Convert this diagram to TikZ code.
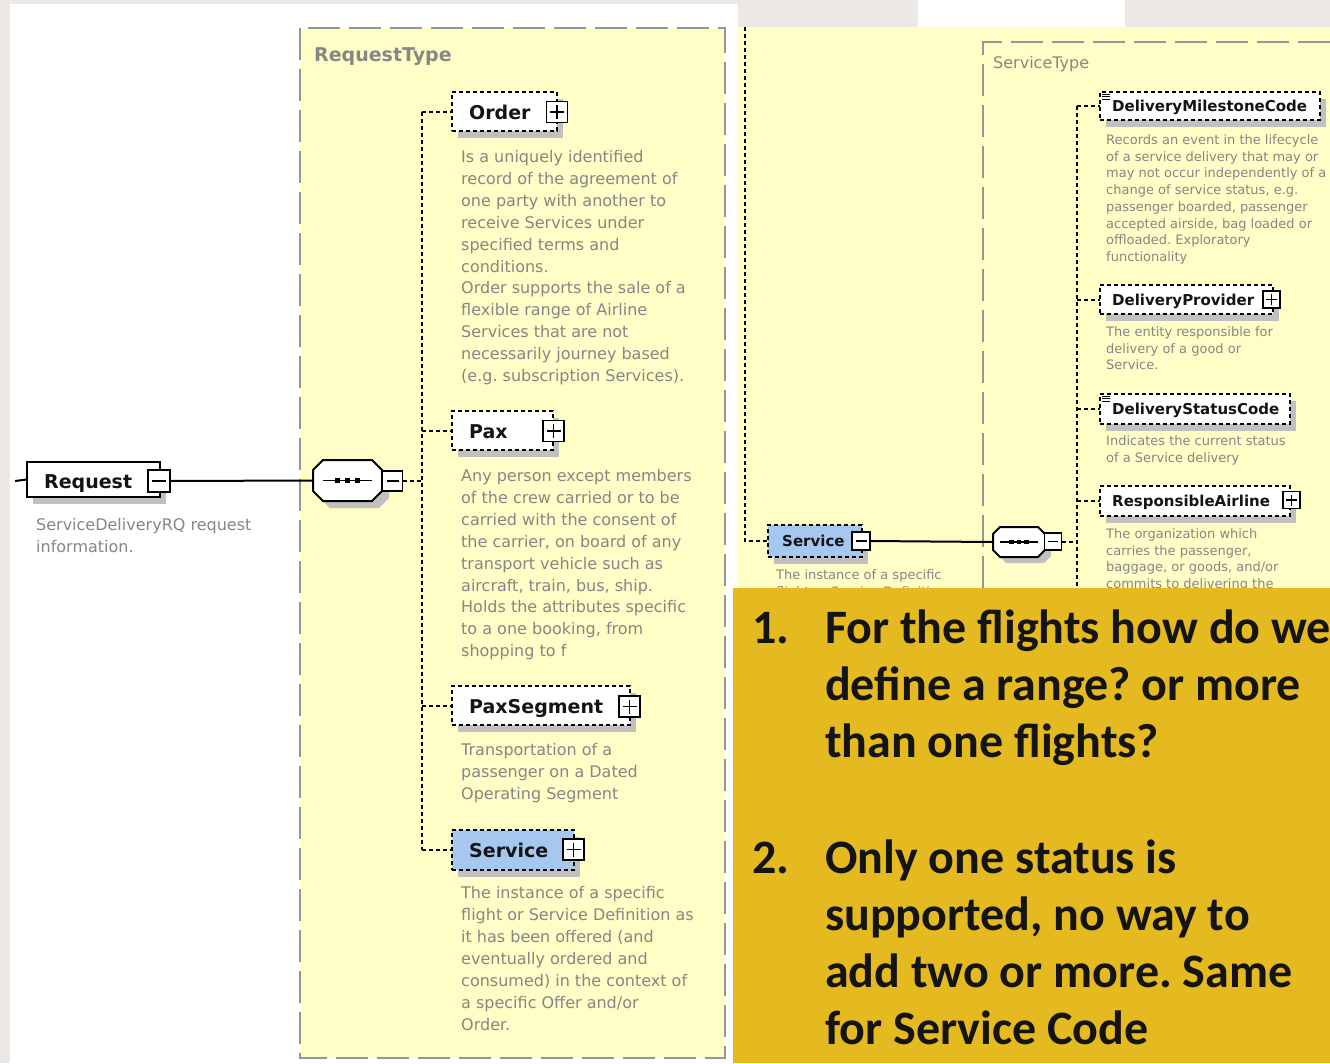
\documentclass[tikz,border=0pt]{standalone}
\usepackage{fontspec}
\setmainfont{DejaVu Sans}
\newfontfamily\callf{Carlito}
\usetikzlibrary{shadows}
\frenchspacing
\definecolor{bggray}{RGB}{236,232,229}
\definecolor{xsyellow}{RGB}{255,254,198}
\definecolor{calloutc}{RGB}{229,185,32}
\definecolor{descgray}{RGB}{134,134,134}
\definecolor{typegray}{RGB}{135,135,135}
\definecolor{shadowc}{RGB}{192,192,192}
\definecolor{selblue}{RGB}{166,200,240}
\definecolor{bordergray}{RGB}{150,150,150}

\tikzset{
  conn/.style={line width=2pt, dash pattern=on 4pt off 3pt},
  solidconn/.style={line width=2pt},
  elbox/.style={draw, fill=white, line width=2pt, dash pattern=on 4pt off 3pt,
     inner sep=0, outer sep=0, anchor=north west,
     drop shadow={shadow xshift=6pt, shadow yshift=-7pt, fill=shadowc, draw=none, opacity=1}},
  pmbox/.style={draw, fill=white, line width=1.8pt, solid, minimum size=#1, inner sep=0, outer sep=0},
  plusm/.style={path picture={\draw[line width=1.6pt]
     ([xshift=-#1]path picture bounding box.center) -- ([xshift=#1]path picture bounding box.center)
     ([yshift=-#1]path picture bounding box.center) -- ([yshift=#1]path picture bounding box.center);}},
  minusm/.style={path picture={\draw[line width=1.6pt]
     ([xshift=-#1]path picture bounding box.center) -- ([xshift=#1]path picture bounding box.center);}},
  elname/.style={font=\bfseries\fontsize{#1}{#1}\selectfont, anchor=base west, inner sep=0, text=black!92},
  desc/.style={anchor=base west, inner sep=0, text=descgray},
  typebox/.style={draw=bordergray, line width=2pt, dash pattern=on 32pt off 9pt},
  callt/.style={font=\callf\bfseries\fontsize{48}{48}\selectfont, anchor=base west, inner sep=0, text=black!92},
  seqbox/.style={minimum width=#1, inner sep=0, outer sep=0},
}

\newcommand\desclines[6]{%
  \foreach \ln [count=\k from 0] in {#6}{%
    \node[desc, font=\fontsize{#5}{#5}\selectfont] (#1\k) at (#2, {#3+\k*#4}) {\ln};
  }}

\newcommand\octpath[2]{([xshift=#2]#1.north west) -- ([xshift=-#2]#1.north east) -- ([yshift=-#2]#1.north east) -- ([yshift=#2]#1.south east) -- ([xshift=-#2]#1.south east) -- ([xshift=#2]#1.south west) -- ([yshift=#2]#1.south west) -- ([yshift=-#2]#1.north west) -- cycle}

\newcommand\seqdraw[5]{% name, chamfer, shadow, dot spacing, dot half size
  \begin{scope}[transform canvas={shift={(#3,-#3)}}]
    \fill[shadowc] \octpath{#1}{#2};
  \end{scope}
  \draw[line width=2pt, fill=white] \octpath{#1}{#2};
  \draw[line width=1.8pt] ([xshift=#2]#1.west) -- ([xshift=-#2]#1.east);
  \foreach \dx in {-#4,0,#4} {\fill ([xshift=\dx pt]#1.center) +(-#5,-#5) rectangle +(#5,#5);}
}

\newcommand\listicon[1]{%
  \foreach \dy in {0,2.5,5} {\draw[line width=1pt] ([xshift=2pt,yshift=-2pt-\dy pt]#1.north west) -- ++(8,0);}
}

\begin{document}
\begin{tikzpicture}[x=1pt,y=-1pt]
\useasboundingbox (0,0) rectangle (1330,1063);
% backgrounds
\fill[bggray] (0,0) rectangle (1330,1063);
\fill[white] (10,4) rectangle (738,1063);
\fill[white] (918,0) rectangle (1125,27);
\fill[xsyellow] (738,27) rectangle (1330,1063);
% RequestType panel
\draw[typebox, fill=xsyellow] (300,28) rectangle (725,1058);
\node[font=\bfseries\fontsize{19}{19}\selectfont, text=typegray, anchor=base west, inner sep=0] (rtlabel) at (314,61) {RequestType};
% ServiceType panel
\draw[typebox] (1330,42) -- (983,42) -- (983,620);
\node[font=\fontsize{16}{16}\selectfont, text=typegray, anchor=base west, inner sep=0] (stlabel) at (993,68) {ServiceType};

% ---------- left part ----------
\node[elbox, solid, minimum width=133pt, minimum height=35pt] (req) at (27,462) {};
\node[elname=19] (reqt) at (44,488) {Request};
\node[pmbox=22pt, minusm=7pt] (reqm) at (159,481) {};
\desclines{reqd}{36}{530.5}{22}{16}{ServiceDeliveryRQ request,information.}

\node[seqbox=69pt, minimum height=41pt] (seq1) at (347.5,480.5) {};
\seqdraw{seq1}{10pt}{7pt}{10}{2.7}
\node[pmbox=20pt, minusm=6pt] (seq1m) at (392.5,481) {};

\node[elbox, minimum width=105pt, minimum height=39pt] (order) at (452,92) {};
\node[elname=19] (ordert) at (469,119) {Order};
\node[pmbox=21pt, plusm=7pt] (orderp) at (557,112) {};
\desclines{orderd}{461}{162.5}{21.9}{16}{Is a uniquely identified,record of the agreement of,one party with another to,receive Services under,specified terms and,conditions.,Order supports the sale of a,flexible range of Airline,Services that are not,necessarily journey based,(e.g. subscription Services).}

\node[elbox, minimum width=101pt, minimum height=39pt] (pax) at (452,411) {};
\node[elname=19] (paxt) at (469,438) {Pax};
\node[pmbox=21pt, plusm=7pt] (paxp) at (553.5,431) {};
\desclines{paxd}{461}{481.5}{21.9}{16}{Any person except members,of the crew carried or to be,carried with the consent of,{the carrier, on board of any},transport vehicle such as,{aircraft, train, bus, ship.},Holds the attributes specific,{to a one booking, from},shopping to f}

\node[elbox, minimum width=178pt, minimum height=39pt] (pseg) at (452,686) {};
\node[elname=19] (psegt) at (469,713) {PaxSegment};
\node[pmbox=21pt, plusm=7pt] (psegp) at (629.5,706.5) {};
\desclines{psegd}{461}{755.5}{22}{16}{Transportation of a,passenger on a Dated,Operating Segment}

\node[elbox, fill=selblue, minimum width=122pt, minimum height=40pt] (svc) at (452,830) {};
\node[elname=19] (svct) at (469,857) {Service};
\node[pmbox=21pt, plusm=7pt] (svcp) at (573.5,849.5) {};
\desclines{svcd}{461}{898.5}{22}{16}{The instance of a specific,flight or Service Definition as,it has been offered (and,eventually ordered and,consumed) in the context of,a specific Offer and/or,Order.}

% left connectors
\coordinate (reqin) at (15,481);
\coordinate (spine1) at (422,481);
\draw[solidconn] (reqin) -- (req.west);
\draw[solidconn] (reqm.east) -- (seq1.west);
\draw[conn] (seq1m.east) -- (spine1);
\draw[conn] (order.west -| spine1) -- (svc.west -| spine1);
\foreach \c in {order,pax,pseg,svc} {\draw[conn] (\c.west -| spine1) -- (\c.west);}

% ---------- right part ----------
\node[elbox, fill=selblue, minimum width=94pt, minimum height=32pt] (svc2) at (768,525) {};
\node[elname=15] (svc2t) at (782,546.5) {Service};
\node[pmbox=18pt, minusm=5.5pt] (svc2m) at (861,541) {};
\desclines{svc2d}{776}{579.5}{16.7}{13}{The instance of a specific,flight or Service Definition as}

\node[seqbox=52pt, minimum height=30pt] (seq2) at (1019,542) {};
\seqdraw{seq2}{7pt}{6pt}{7.5}{2.2}
\node[pmbox=17pt, minusm=5pt] (seq2m) at (1053,541.5) {};

\node[elbox, minimum width=220pt, minimum height=28pt] (dmc) at (1100,92) {};
\listicon{dmc}
\node[elname=15] (dmct) at (1112,111.5) {DeliveryMilestoneCode};
\desclines{dmcd}{1106}{144.5}{16.7}{13}{Records an event in the lifecycle,of a service delivery that may or,may not occur independently of a,{change of service status, e.g.},{passenger boarded, passenger},{accepted airside, bag loaded or},offloaded. Exploratory,functionality}

\node[elbox, minimum width=173pt, minimum height=29pt] (dp) at (1100,285) {};
\node[elname=15] (dpt) at (1112,305) {DeliveryProvider};
\node[pmbox=17pt, plusm=5.5pt] (dpp) at (1271.5,299.5) {};
\desclines{dpd}{1106}{336.5}{16.7}{13}{The entity responsible for,delivery of a good or,Service.}

\node[elbox, minimum width=190pt, minimum height=30pt] (dsc) at (1100,394) {};
\listicon{dsc}
\node[elname=15] (dsct) at (1112,414) {DeliveryStatusCode};
\desclines{dscd}{1106}{445.5}{16.7}{13}{Indicates the current status,of a Service delivery}

\node[elbox, minimum width=190pt, minimum height=30pt] (ra) at (1100,486) {};
\node[elname=15] (rat) at (1112,506) {ResponsibleAirline};
\node[pmbox=17pt, plusm=5.5pt] (rap) at (1291.5,500) {};
\desclines{rad}{1106}{538.5}{16.7}{13}{The organization which,{carries the passenger,},{baggage, or goods, and/or},commits to delivering the}

% right connectors
\coordinate (rtop) at (745,27);
\coordinate (spine2) at (1077,541.5);
\coordinate (spine2end) at (1077,620);
\draw[conn] (rtop) |- (svc2.west);
\draw[solidconn] (svc2m.east) -- (seq2.west);
\draw[conn] (seq2m.east) -- (spine2);
\draw[conn] (dmc.west -| spine2) -- (spine2end);
\foreach \c in {dmc,dp,dsc,ra} {\draw[conn] (\c.west -| spine2) -- (\c.west);}

% ---------- callout ----------
\fill[calloutc] (733,588) rectangle (1330,1063);
\node[callt] (n1) at (752,643) {1.};
\node[callt] (l1a) at (825,643) {For the flights how do we};
\node[callt] (l1b) at (825,700) {define a range? or more};
\node[callt] (l1c) at (825,757) {than one flights?};
\node[callt] (n2) at (752,873) {2.};
\node[callt] (l2a) at (825,873) {Only one status is};
\node[callt] (l2b) at (825,930) {supported, no way to};
\node[callt] (l2c) at (825,987) {add two or more. Same};
\node[callt] (l2d) at (825,1044) {for Service Code};
\end{tikzpicture}
\end{document}
